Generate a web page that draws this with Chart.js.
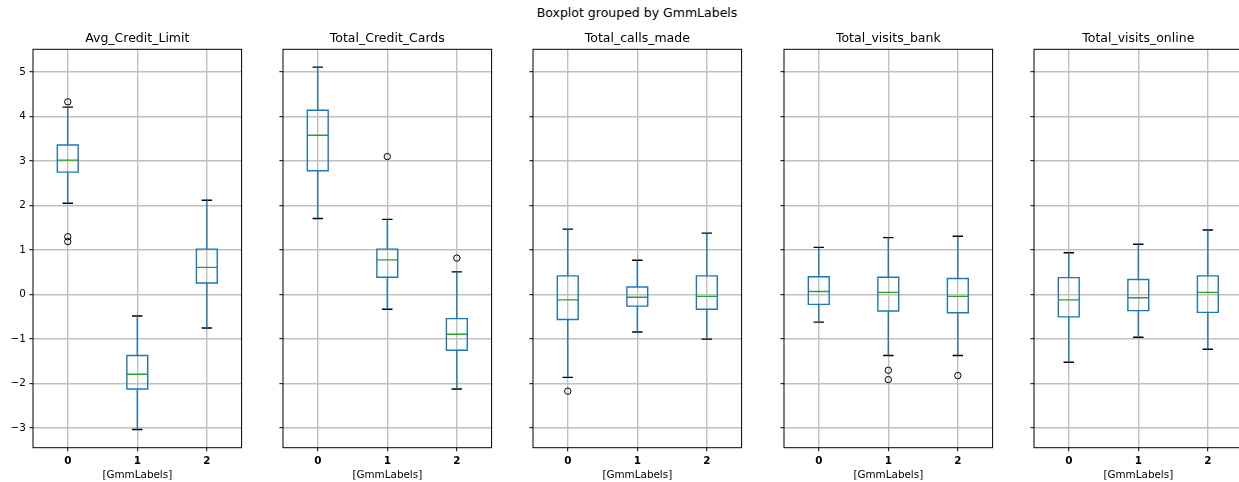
<!DOCTYPE html>
<html>
<head>
<meta charset="utf-8">
<script src="https://cdn.jsdelivr.net/npm/chart.js@4/dist/chart.umd.min.js"></script>
<style>
  html, body { margin: 0; padding: 0; background: #fff; overflow: hidden; width: 1239px; height: 482px; }
  #sup { position: absolute; left: 0; top: 5px; width: 1274px; text-align: center;
         font: 12.5px/15px "DejaVu Sans", sans-serif; color: #000; }
  .plot { position: absolute; top: 0; width: 250px; height: 482px; }
</style>
</head>
<body>
<div id="sup">Boxplot grouped by GmmLabels</div>
<div id="wrap"></div>
<script>
// Groups on the x axis and the variables, one panel each
const groups = ['0', '1', '2'];
const variables = ['Avg_Credit_Limit', 'Total_Credit_Cards', 'Total_calls_made', 'Total_visits_bank', 'Total_visits_online'];
const yTicks = [-3, -2, -1, 0, 1, 2, 3, 4, 5];

// Box statistics per group: [lower whisker, Q1, median, Q3, upper whisker]
const avgCreditLimit    = [[2.05, 2.75, 3.02, 3.36, 4.21], [-3.03, -2.12, -1.79, -1.37, -0.48], [-0.75, 0.26, 0.61, 1.02, 2.12]];
const totalCreditCards  = [[1.71, 2.78, 3.58, 4.14, 5.11], [-0.33, 0.39, 0.78, 1.02, 1.69], [-2.12, -1.25, -0.89, -0.54, 0.51]];
const totalCallsMade    = [[-1.86, -0.56, -0.12, 0.42, 1.47], [-0.84, -0.26, -0.06, 0.17, 0.77], [-1.00, -0.33, -0.04, 0.42, 1.38]];
const totalVisitsBank   = [[-0.62, -0.22, 0.07, 0.40, 1.06], [-1.37, -0.37, 0.05, 0.39, 1.28], [-1.37, -0.41, -0.04, 0.36, 1.31]];
const totalVisitsOnline = [[-1.52, -0.50, -0.12, 0.38, 0.94], [-0.96, -0.36, -0.07, 0.34, 1.13], [-1.23, -0.40, 0.05, 0.42, 1.45]];

// Outliers per group
const avgCreditLimitFliers    = [[4.33, 1.30, 1.19], [], []];
const totalCreditCardsFliers  = [[], [3.10], [0.82]];
const totalCallsMadeFliers    = [[-2.17], [], []];
const totalVisitsBankFliers   = [[], [-1.70, -1.91], [-1.82]];
const totalVisitsOnlineFliers = [[], [], []];

const panelStats  = [avgCreditLimit, totalCreditCards, totalCallsMade, totalVisitsBank, totalVisitsOnline];
const panelFliers = [avgCreditLimitFliers, totalCreditCardsFliers, totalCallsMadeFliers, totalVisitsBankFliers, totalVisitsOnlineFliers];

// Layout and style
const FONT = 'DejaVu Sans';
const BLUE = '#1f77b4', GREEN = '#2ca02c';
const HALF_BOX = 0.15, HALF_CAP = 0.075;
const AX_LEFT0 = 32.7, AX_STEP = 250.3, AX_W = 208.6, AX_TOP = 49.3, AX_BOTTOM = 447.7;
const CANVAS_W = 250, CANVAS_H = 482, Y_AXIS_W = 33;
const Y_MIN = -3.44, Y_MAX = 5.51;

function boxDatasets(stats, fliers) {
  const whisk = [], caps = [], box = [], med = [], out = [];
  stats.forEach(([lo, q1, m, q3, hi], k) => {
    whisk.push({x: k, y: lo}, {x: k, y: q1}, {x: k, y: null}, {x: k, y: q3}, {x: k, y: hi}, {x: k, y: null});
    caps.push({x: k - HALF_CAP, y: lo}, {x: k + HALF_CAP, y: lo}, {x: k, y: null},
              {x: k - HALF_CAP, y: hi}, {x: k + HALF_CAP, y: hi}, {x: k, y: null});
    box.push({x: k - HALF_BOX, y: q1}, {x: k + HALF_BOX, y: q1}, {x: k + HALF_BOX, y: q3},
             {x: k - HALF_BOX, y: q3}, {x: k - HALF_BOX, y: q1}, {x: k + HALF_BOX, y: q1}, {x: k, y: null});
    med.push({x: k - HALF_BOX, y: m}, {x: k + HALF_BOX, y: m}, {x: k, y: null});
    fliers[k].forEach(v => out.push({x: k, y: v}));
  });
  const line = (data, color) => ({
    data, showLine: true, borderColor: color, borderWidth: 1.4, pointRadius: 0,
    fill: false, spanGaps: false, tension: 0, borderJoinStyle: 'miter'
  });
  return [
    line(whisk, BLUE), line(caps, '#000'), line(box, BLUE), line(med, GREEN),
    { data: out, showLine: false, pointRadius: 3.2, pointBorderWidth: 1,
      pointBorderColor: '#000', pointBackgroundColor: 'rgba(0,0,0,0)' }
  ];
}

// Axes frame on all four sides
const frame = {
  id: 'frame',
  afterDatasetsDraw(chart) {
    const {ctx, chartArea: a} = chart;
    ctx.save();
    ctx.strokeStyle = '#000';
    ctx.lineWidth = 1;
    ctx.strokeRect(a.left, a.top, a.right - a.left, a.bottom - a.top);
    ctx.restore();
  }
};

const wrap = document.getElementById('wrap');
variables.forEach((name, i) => {
  const div = document.createElement('div');
  div.className = 'plot';
  div.style.left = (AX_LEFT0 + i * AX_STEP - Y_AXIS_W) + 'px';
  const cv = document.createElement('canvas');
  cv.width = CANVAS_W; cv.height = CANVAS_H;
  div.appendChild(cv);
  wrap.appendChild(div);

  new Chart(cv, {
    type: 'scatter',
    data: { datasets: boxDatasets(panelStats[i], panelFliers[i]) },
    plugins: [frame],
    options: {
      responsive: false, animation: false, events: [],
      layout: { padding: { left: 0, top: 0, bottom: 0, right: CANVAS_W - Y_AXIS_W - AX_W } },
      plugins: {
        legend: { display: false },
        tooltip: { enabled: false },
        title: {
          display: true, text: name, color: '#000', fullSize: false,
          font: { family: FONT, size: 12.5, weight: 'normal', lineHeight: 1.2 },
          padding: { top: 31.3, bottom: AX_TOP - 31.3 - 15 }
        }
      },
      scales: {
        x: {
          type: 'linear', min: -0.5, max: 2.5,
          afterBuildTicks: s => { s.ticks = groups.map((g, k) => ({ value: k })); },
          afterFit: s => { s.height = CANVAS_H - AX_BOTTOM; },
          ticks: { callback: v => groups[v], color: '#000', padding: 3.6,
                   font: { family: FONT, size: 10.4, weight: 'bold' }, maxRotation: 0, autoSkip: false },
          grid: { color: '#c0c0c0', lineWidth: 1.4, tickColor: '#000', tickLength: 3.6, tickWidth: 1 },
          border: { display: false },
          title: { display: true, text: '[GmmLabels]', color: '#000',
                   font: { family: FONT, size: 10.4 }, padding: { top: 0, bottom: 0.5 } }
        },
        y: {
          type: 'linear', min: Y_MIN, max: Y_MAX,
          afterBuildTicks: s => { s.ticks = yTicks.map(v => ({ value: v })); },
          afterFit: s => { s.width = Y_AXIS_W; },
          ticks: { display: i === 0, callback: v => String(v).replace('-', '\u2212'), color: '#000',
                   padding: 3.6, font: { family: FONT, size: 10.4 } },
          grid: { color: '#c0c0c0', lineWidth: 1.4, tickColor: '#000', tickLength: 3.6, tickWidth: 1 },
          border: { display: false }
        }
      }
    }
  });
});
</script>
</body>
</html>
